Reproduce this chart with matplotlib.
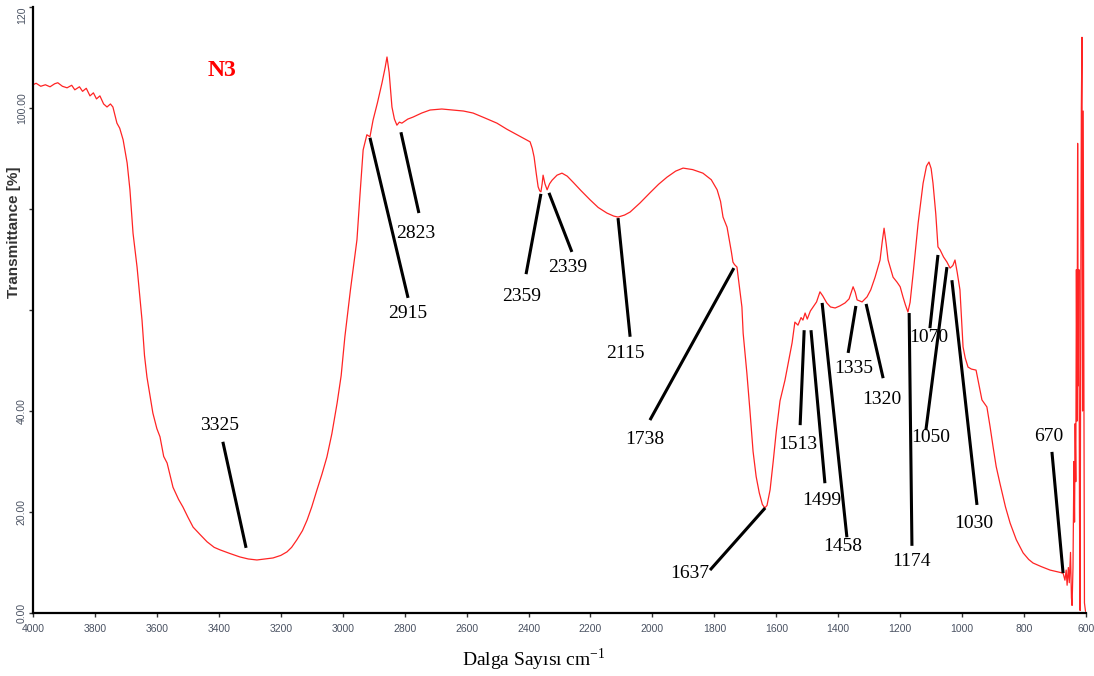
import numpy as np
import matplotlib.pyplot as plt

plt.rcParams['mathtext.fontset'] = 'custom'
plt.rcParams['mathtext.rm'] = 'Liberation Serif'

# FTIR spectrum of sample N3
wavenumber = [
    4000, 3990, 3975, 3960, 3945, 3930, 3920, 3905, 3890, 3875, 3865, 3850, 3840, 3828,
    3816, 3805, 3795, 3784, 3772, 3761, 3750, 3742, 3735, 3729, 3720, 3709, 3696, 3687,
    3677, 3664, 3648, 3640, 3632, 3622, 3613, 3600, 3590, 3578, 3567, 3548, 3530, 3516,
    3500, 3483, 3460, 3438, 3415, 3396, 3365, 3332, 3305, 3277, 3250, 3225, 3200, 3180,
    3165, 3148, 3130, 3115, 3100, 3083, 3067, 3051, 3035, 3018, 3005, 2993, 2975, 2954,
    2944, 2934, 2922, 2912, 2902, 2888, 2873, 2863, 2857, 2850, 2841, 2833, 2825, 2817,
    2809, 2790, 2773, 2745, 2718, 2680, 2644, 2610, 2579, 2540, 2502, 2470, 2437, 2410,
    2395, 2388, 2382, 2375, 2369, 2364, 2360, 2356, 2353, 2347, 2340, 2332, 2324, 2308,
    2292, 2275, 2256, 2230, 2201, 2175, 2147, 2125, 2111, 2090, 2072, 2040, 2008, 1980,
    1953, 1925, 1901, 1870, 1837, 1810, 1791, 1780, 1772, 1759, 1745, 1740, 1735, 1727,
    1711, 1707, 1695, 1685, 1675, 1665, 1655, 1645, 1637, 1630, 1620, 1610, 1600, 1588,
    1572, 1560, 1549, 1540, 1530, 1520, 1514, 1507, 1500, 1490, 1481, 1470, 1459, 1450,
    1437, 1425, 1410, 1395, 1378, 1365, 1352, 1345, 1339, 1323, 1307, 1295, 1281, 1265,
    1258, 1252, 1245, 1239, 1223, 1210, 1200, 1191, 1183, 1175, 1168, 1158, 1142, 1126,
    1115, 1107, 1100, 1094, 1085, 1078, 1071, 1060, 1049, 1039, 1030, 1023, 1016, 1007,
    997, 990, 981, 970, 955, 945, 936, 920, 910, 900, 890, 878, 860, 845,
    825, 803, 785, 771, 745, 716, 695, 674, 668, 664, 661, 657, 654, 650,
    647, 645, 642, 639, 637, 635, 633, 631, 629, 627, 625, 623, 621, 619,
    617, 615, 613, 611, 609, 607, 605, 602, 600,
]
transmittance = [
    104.6, 104.9, 104.3, 104.6, 104.2, 104.8, 105.0, 104.3, 104.0, 104.5, 103.6, 104.2, 103.3, 103.9,
    102.4, 103.0, 101.8, 102.4, 100.8, 100.2, 100.8, 100.2, 98.5, 97.0, 96.0, 93.7, 89.1, 83.8,
    75.2, 68.5, 58.0, 51.0, 46.7, 43.0, 39.6, 36.5, 34.9, 31.0, 29.7, 24.9, 22.5, 21.0,
    19.0, 17.0, 15.5, 14.1, 13.0, 12.5, 11.8, 11.1, 10.7, 10.5, 10.7, 10.9, 11.4, 12.1,
    13.0, 14.5, 16.3, 18.4, 21.0, 24.4, 27.5, 30.9, 35.5, 41.6, 47.0, 54.7, 64.0, 73.9,
    83.0, 91.7, 94.7, 94.3, 97.6, 101.0, 105.0, 108.0, 110.1, 107.0, 100.2, 97.8, 96.6, 97.2,
    97.0, 97.8, 98.2, 99.0, 99.6, 99.8, 99.6, 99.4, 99.0, 98.0, 97.0, 95.8, 94.7, 93.8,
    93.3, 92.0, 90.3, 87.0, 84.4, 83.6, 83.4, 85.0, 86.7, 85.0, 83.8, 85.0, 85.7, 86.7,
    87.1, 86.5, 85.3, 83.6, 81.8, 80.3, 79.2, 78.6, 78.4, 78.8, 79.4, 81.2, 83.2, 84.9,
    86.3, 87.5, 88.1, 87.8, 87.1, 85.8, 83.8, 81.5, 78.4, 76.4, 71.5, 69.5, 69.0, 68.5,
    60.6, 55.4, 47.5, 40.0, 32.0, 27.0, 23.8, 21.5, 20.8, 21.3, 24.4, 30.0, 36.0, 42.0,
    46.1, 50.0, 53.5, 57.6, 57.0, 58.5, 58.0, 59.4, 58.2, 59.8, 60.6, 61.6, 63.6, 62.8,
    61.4, 60.6, 60.4, 60.8, 61.4, 62.2, 64.6, 63.5, 62.0, 61.6, 62.6, 64.0, 66.5, 69.9,
    73.5, 76.2, 73.0, 69.9, 66.5, 65.5, 64.6, 62.6, 61.0, 59.6, 61.5, 67.3, 77.2, 85.1,
    88.5, 89.3, 88.0, 85.1, 79.0, 72.5, 71.9, 70.5, 69.5, 68.3, 68.8, 69.9, 67.5, 64.0,
    52.7, 50.5, 48.7, 48.3, 48.1, 45.0, 42.2, 40.8, 37.0, 32.9, 29.0, 25.7, 21.0, 17.8,
    14.5, 11.9, 10.6, 9.9, 9.2, 8.5, 8.2, 7.9, 6.5, 8.5, 5.5, 9.0, 6.0, 12.0,
    3.0, 1.5, 9.0, 30.0, 18.0, 37.5, 26.0, 68.0, 38.0, 93.0, 45.0, 68.0, 20.0, 0.5,
    60.0, 100.0, 114.0, 40.0, 99.4, 50.0, 2.0, 0.5, 0.2,
]

peak_labels = ['3325', '2915', '2823', '2359', '2339', '2115', '1738', '1637', '1513',
               '1499', '1458', '1335', '1320', '1174', '1070', '1050', '1030', '670']

# label placement: (text x, text y, line start x, y, line end x, y) in data units
label_layout = [
    (3396, 37.2, 3312, 12.9, 3387, 33.9),
    (2789, 59.4, 2912, 94.1, 2789, 62.4),
    (2763, 75.2, 2812, 95.2, 2754, 79.2),
    (2421, 62.6, 2360, 83.0, 2408, 67.1),
    (2273, 68.5, 2334, 83.2, 2260, 71.5),
    (2088, 51.3, 2111, 78.2, 2072, 54.7),
    (2024, 34.3, 1737, 68.3, 2008, 38.2),
    (1879, 7.9, 1636, 20.8, 1814, 8.5),
    (1530, 33.3, 1510, 56.0, 1523, 37.2),
    (1452, 22.2, 1488, 56.0, 1443, 25.7),
    (1385, 13.1, 1452, 61.4, 1372, 15.0),
    (1349, 48.5, 1343, 60.8, 1368, 51.5),
    (1259, 42.2, 1310, 61.2, 1255, 46.5),
    (1162, 10.1, 1171, 59.4, 1162, 13.3),
    (1107, 54.5, 1078, 70.9, 1104, 56.4),
    (1100, 34.7, 1049, 68.5, 1117, 36.2),
    (962, 17.8, 1033, 65.9, 952, 21.4),
    (719, 34.9, 674, 7.9, 710, 31.9),
]

fig = plt.figure(figsize=(10.94, 6.76), dpi=100)
ax = fig.add_axes([33 / 1094, 63 / 676, 1053 / 1094, 606 / 676])

ax.plot(wavenumber, transmittance, color='#ff2424', linewidth=0.9)

for text, (tx, ty, x0, y0, x1, y1) in zip(peak_labels, label_layout):
    ax.plot([x0, x1], [y0, y1], color='black', linewidth=2.2, solid_capstyle='butt')
    ax.text(tx, ty, text, fontsize=14, family='Liberation Serif',
            ha='center', va='center', color='black')

ax.text(3390, 107.5, 'N3', fontsize=17, family='Liberation Serif', fontweight='bold',
        color='red', ha='center', va='center')

ax.set_xlim(4000, 600)
ax.set_ylim(0, 120)
ax.set_xticks(np.arange(4000, 599, -200))
ax.set_xticklabels([str(v) for v in range(4000, 599, -200)])
ax.set_yticks([0, 20, 40, 60, 80, 100, 120])
ax.set_yticklabels(['0.00', '20.00', '40.00', '', '', '100.00', '120'],
                   rotation=90, va='center')
ax.get_yticklabels()[-1].set_va('top')
for lab in ax.get_xticklabels() + ax.get_yticklabels():
    lab.set_family('Liberation Sans')
    lab.set_fontsize(7.5)
    lab.set_color('#4a5262')
ax.tick_params(axis='x', length=3, width=1, pad=5, color='#333333')
ax.tick_params(axis='y', length=3, width=1, pad=1.5, color='#333333')

for side in ['top', 'right']:
    ax.spines[side].set_visible(False)
for side in ['left', 'bottom']:
    ax.spines[side].set_linewidth(1.6)

fig.text(534 / 1094, (676 - 660) / 676, 'Dalga Sayısı cm$^{-1}$', fontsize=14,
         family='Liberation Serif', ha='center', va='center')
fig.text(14 / 1094, (676 - 232) / 676, 'Transmittance [%]', fontsize=11,
         family='Liberation Sans', fontweight='bold', color='#333333',
         rotation=90, ha='center', va='center')

fig.savefig('out.png', dpi=100)
